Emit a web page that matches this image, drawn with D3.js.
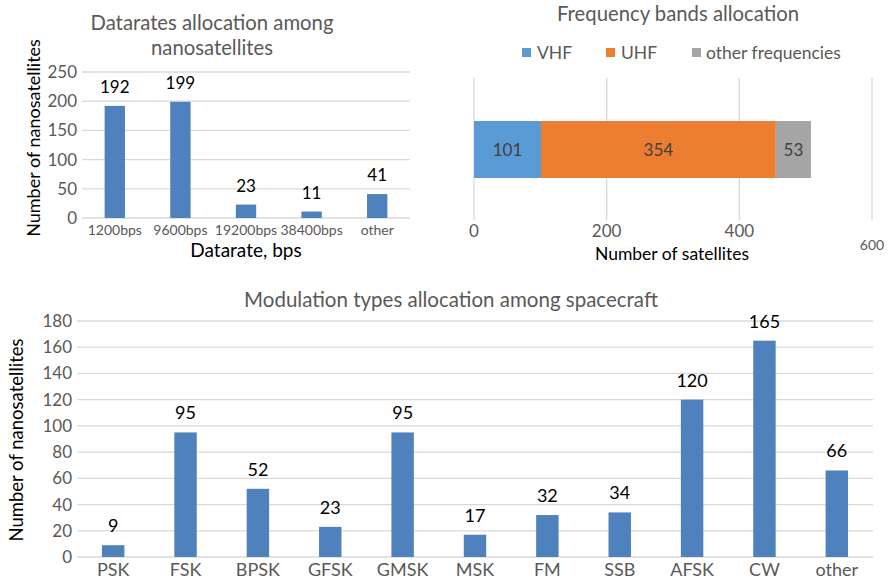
<!DOCTYPE html>
<html><head><meta charset="utf-8">
<script src="https://cdn.jsdelivr.net/npm/d3@7"></script>
<style>body{margin:0;background:#fff}svg{display:block;font-family:Lato,"Open Sans",sans-serif}</style>
</head><body>
<svg id="c" width="888" height="579"></svg>
<script>
const rateCats = ["1200bps","9600bps","19200bps","38400bps","other"];
const rateVals = [192,199,23,11,41];
const rateTicks = [0,50,100,150,200,250];

const bandNames = ["VHF","UHF","other frequencies"];
const bandVals = [101,354,53];
const bandColors = ["#5b9bd5","#ed7d31","#a5a5a5"];
const bandTicks = [0,200,400,600];

const modCats = ["PSK","FSK","BPSK","GFSK","GMSK","MSK","FM","SSB","AFSK","CW","other"];
const modVals = [9,95,52,23,95,17,32,34,120,165,66];
const modTicks = [0,20,40,60,80,100,120,140,160,180];

const svg = d3.select("#c");
const BAR = "#4f81bd", GRID = "#d9d9d9", TXT = "#595959";

function columnChart(g, cats, vals, ticks, x0, x1, y0, y1, tickFs, xFs, lblFs, xLblY){
  const x = d3.scaleBand().domain(cats).range([x0,x1]).paddingInner(0.69).paddingOuter(0.345);
  const y = d3.scaleLinear().domain([0,ticks[ticks.length-1]]).range([y0,y1]);
  g.selectAll("line.grid").data(ticks).join("line")
    .attr("x1",x0).attr("x2",x1).attr("y1",d=>y(d)).attr("y2",d=>y(d))
    .attr("stroke",GRID).attr("stroke-width",1.3);
  g.selectAll("text.yt").data(ticks).join("text")
    .attr("x",x0-5).attr("y",d=>y(d)).attr("dy","0.35em").attr("text-anchor","end")
    .attr("fill",TXT).attr("font-size",tickFs).text(d=>d);
  g.selectAll("rect").data(vals).join("rect")
    .attr("x",(d,i)=>x(cats[i])).attr("width",x.bandwidth())
    .attr("y",d=>y(d)).attr("height",d=>y(0)-y(d)).attr("fill",BAR);
  g.selectAll("text.v").data(vals).join("text")
    .attr("x",(d,i)=>x(cats[i])+x.bandwidth()/2).attr("y",d=>y(d)-13)
    .attr("text-anchor","middle").attr("fill","#000").attr("font-size",lblFs).text(d=>d);
  g.selectAll("text.xt").data(cats).join("text")
    .attr("x",d=>x(d)+x.bandwidth()/2).attr("y",xLblY).attr("dy","0.35em")
    .attr("text-anchor","middle").attr("fill",TXT).attr("font-size",xFs).text(d=>d);
}

// Chart 1
const g1 = svg.append("g");
columnChart(g1, rateCats, rateVals, rateTicks, 82, 410, 218, 72, 17, 14, 17, 230);
g1.append("text").attr("x",212).attr("y",23).attr("dy","0.35em").attr("text-anchor","middle")
  .attr("fill",TXT).attr("font-size",20.3).text("Datarates allocation among");
g1.append("text").attr("x",212).attr("y",48).attr("dy","0.35em").attr("text-anchor","middle")
  .attr("fill",TXT).attr("font-size",20.3).text("nanosatellites");
g1.append("text").attr("x",246).attr("y",250).attr("dy","0.35em").attr("text-anchor","middle")
  .attr("fill","#000").attr("font-size",19).text("Datarate, bps");
g1.append("text").attr("transform","translate(34,138) rotate(-90)").attr("dy","0.35em")
  .attr("text-anchor","middle").attr("fill","#000").attr("font-size",18).text("Number of nanosatellites");

// Chart 2
const g2 = svg.append("g");
const xb = d3.scaleLinear().domain([0,600]).range([474,872]);
g2.selectAll("line.g").data(bandTicks).join("line")
  .attr("x1",d=>xb(d)).attr("x2",d=>xb(d)).attr("y1",78).attr("y2",220)
  .attr("stroke",GRID).attr("stroke-width",1.3);
g2.selectAll("text.t").data(bandTicks).join("text")
  .attr("x",d=>xb(d)).attr("y",d=>d===600?245:231).attr("dy","0.35em").attr("text-anchor","middle")
  .attr("fill",TXT).attr("font-size",d=>d===600?14:17).text(d=>d);
const stack = bandVals.map((v,i)=>({v, start:d3.sum(bandVals.slice(0,i)), c:bandColors[i]}));
g2.selectAll("rect").data(stack).join("rect")
  .attr("x",d=>xb(d.start)).attr("width",d=>xb(d.start+d.v)-xb(d.start))
  .attr("y",121).attr("height",57).attr("fill",d=>d.c);
g2.selectAll("text.v").data(stack).join("text")
  .attr("x",d=>xb(d.start+d.v/2)).attr("y",150).attr("dy","0.35em").attr("text-anchor","middle")
  .attr("fill","#404040").attr("font-size",17).text(d=>d.v);
g2.append("text").attr("x",678).attr("y",14).attr("dy","0.35em").attr("text-anchor","middle")
  .attr("fill",TXT).attr("font-size",20.3).text("Frequency bands allocation");
g2.append("text").attr("x",672).attr("y",254).attr("dy","0.35em").attr("text-anchor","middle")
  .attr("fill","#000").attr("font-size",17.5).text("Number of satellites");
const legX = [522,606,692];
bandNames.forEach((n,i)=>{
  g2.append("rect").attr("x",legX[i]).attr("y",48).attr("width",9).attr("height",9).attr("fill",bandColors[i]);
  g2.append("text").attr("x",legX[i]+(i===2?14:15)).attr("y",53).attr("dy","0.35em")
    .attr("fill",TXT).attr("font-size",17.5).text(n);
});

// Chart 3
const g3 = svg.append("g");
columnChart(g3, modCats, modVals, modTicks, 77, 873, 557, 321, 17, 18, 18, 570);
g3.append("text").attr("x",451).attr("y",300).attr("dy","0.35em").attr("text-anchor","middle")
  .attr("fill",TXT).attr("font-size",20.5).text("Modulation types allocation among spacecraft");
g3.append("text").attr("transform","translate(17,440) rotate(-90)").attr("dy","0.35em")
  .attr("text-anchor","middle").attr("fill","#000").attr("font-size",18.5).text("Number of nanosatellites");
</script>
</body></html>
